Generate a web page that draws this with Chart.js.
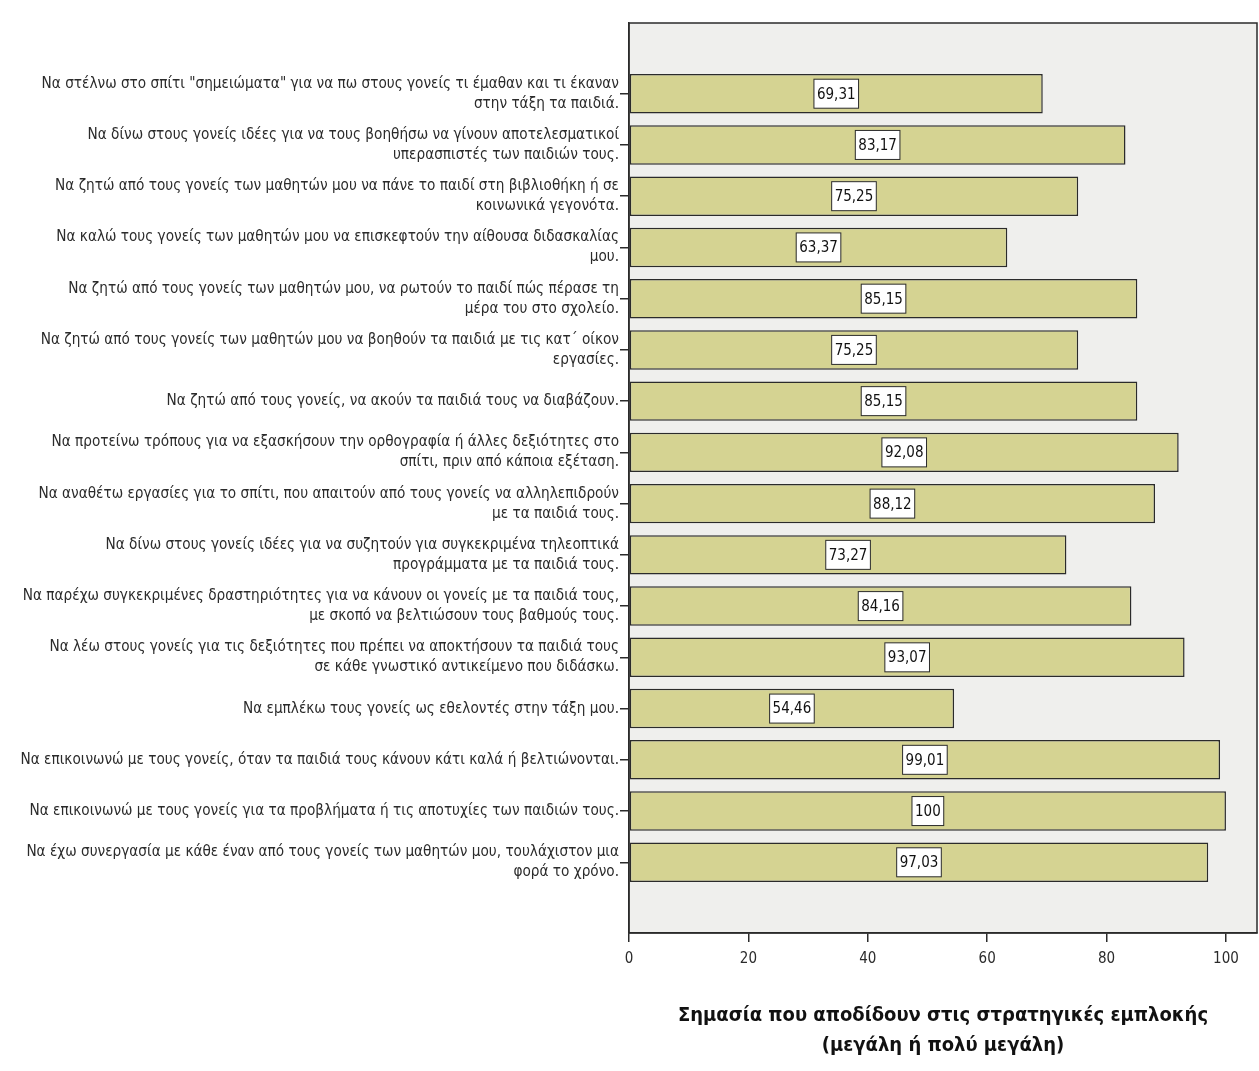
<!DOCTYPE html>
<html>
<head>
<meta charset="utf-8">
<script src="https://cdn.jsdelivr.net/npm/chart.js@4/dist/chart.umd.min.js"></script>
<style>
  html, body { margin: 0; padding: 0; background: #fff; }
  #wrap { width: 1259px; height: 1071px; position: relative; }
</style>
</head>
<body>
<div id="wrap"><canvas id="chartEmplokh"></canvas></div>
<script>
// Στρατηγικές εμπλοκής γονέων (από πάνω προς τα κάτω)
const STRATEGIES = [
    ['Να στέλνω στο σπίτι "σημειώματα" για να πω στους γονείς τι έμαθαν και τι έκαναν', 'στην τάξη τα παιδιά.'],
    ['Να δίνω στους γονείς ιδέες για να τους βοηθήσω να γίνουν αποτελεσματικοί', 'υπερασπιστές των παιδιών τους.'],
    ['Να ζητώ από τους γονείς των μαθητών μου να πάνε το παιδί στη βιβλιοθήκη ή σε', 'κοινωνικά γεγονότα.'],
    ['Να καλώ τους γονείς των μαθητών μου να επισκεφτούν την αίθουσα διδασκαλίας', 'μου.'],
    ['Να ζητώ από τους γονείς των μαθητών μου, να ρωτούν το παιδί πώς πέρασε τη', 'μέρα του στο σχολείο.'],
    ['Να ζητώ από τους γονείς των μαθητών μου να βοηθούν τα παιδιά με τις κατ΄ οίκον', 'εργασίες.'],
    'Να ζητώ από τους γονείς, να ακούν τα παιδιά τους να διαβάζουν.',
    ['Να προτείνω τρόπους για να εξασκήσουν την ορθογραφία ή άλλες δεξιότητες στο', 'σπίτι, πριν από κάποια εξέταση.'],
    ['Να αναθέτω εργασίες για το σπίτι, που απαιτούν από τους γονείς να αλληλεπιδρούν', 'με τα παιδιά τους.'],
    ['Να δίνω στους γονείς ιδέες για να συζητούν για συγκεκριμένα τηλεοπτικά', 'προγράμματα με τα παιδιά τους.'],
    ['Να παρέχω συγκεκριμένες δραστηριότητες για να κάνουν οι γονείς με τα παιδιά τους,', 'με σκοπό να βελτιώσουν τους βαθμούς τους.'],
    ['Να λέω στους γονείς για τις δεξιότητες που πρέπει να αποκτήσουν τα παιδιά τους', 'σε κάθε γνωστικό αντικείμενο που διδάσκω.'],
    'Να εμπλέκω τους γονείς ως εθελοντές στην τάξη μου.',
    'Να επικοινωνώ με τους γονείς, όταν τα παιδιά τους κάνουν κάτι καλά ή βελτιώνονται.',
    'Να επικοινωνώ με τους γονείς για τα προβλήματα ή τις αποτυχίες των παιδιών τους.',
    ['Να έχω συνεργασία με κάθε έναν από τους γονείς των μαθητών μου, τουλάχιστον μια', 'φορά το χρόνο.']
];

// Ποσοστό (%) μεγάλη ή πολύ μεγάλη σημασία
const PERCENTS = [69.31, 83.17, 75.25, 63.37, 85.15, 75.25, 85.15, 92.08, 88.12, 73.27, 84.16, 93.07, 54.46, 99.01, 100, 97.03];

const X_TICKS = [0, 20, 40, 60, 80, 100];
const X_TITLE = ['Σημασία που αποδίδουν στις στρατηγικές εμπλοκής', '(μεγάλη ή πολύ μεγάλη)'];

const NARROW = '"DejaVu Sans Condensed", "Liberation Sans Narrow", sans-serif';
const INK = '#2b2b2b';

const fmt = v => String(v).replace('.', ',');

// γκρι φόντο + πλαίσιο γύρω από την περιοχή του γραφήματος
const frameBg = {
    id: 'frameBg',
    beforeDraw(chart) {
        const { ctx, chartArea: a } = chart;
        ctx.save();
        ctx.fillStyle = '#efefed';
        ctx.fillRect(a.left, a.top, a.right - a.left, a.bottom - a.top);
        ctx.restore();
    },
    afterDraw(chart) {
        const { ctx, chartArea: a } = chart;
        ctx.save();
        ctx.strokeStyle = INK;
        ctx.lineWidth = 1.5;
        ctx.strokeRect(a.left, a.top, a.right - a.left, a.bottom - a.top);
        ctx.restore();
    }
};

// ετικέτα τιμής σε λευκό κουτάκι στη μέση κάθε μπάρας
const valueBoxes = {
    id: 'valueBoxes',
    afterDatasetsDraw(chart) {
        const { ctx } = chart;
        const meta = chart.getDatasetMeta(0);
        ctx.save();
        ctx.font = '15px ' + NARROW;
        ctx.textAlign = 'center';
        ctx.textBaseline = 'middle';
        meta.data.forEach((bar, i) => {
            const txt = fmt(PERCENTS[i]);
            const cx = (bar.x + bar.base) / 2;
            const w = ctx.measureText(txt).width + 6;
            const h = 29;
            ctx.fillStyle = '#fff';
            ctx.fillRect(cx - w / 2, bar.y - h / 2, w, h);
            ctx.strokeStyle = INK;
            ctx.lineWidth = 1;
            ctx.strokeRect(cx - w / 2, bar.y - h / 2, w, h);
            ctx.fillStyle = '#111';
            ctx.fillText(txt, cx, bar.y + 1);
        });
        ctx.restore();
    }
};

new Chart(document.getElementById('chartEmplokh'), {
    type: 'bar',
    data: {
        datasets: [{
            data: PERCENTS.map((v, i) => ({ x: v, y: i })),
            backgroundColor: '#d5d392',
            borderColor: INK,
            borderWidth: 1.5,
            borderSkipped: false,
            categoryPercentage: 1,
            barPercentage: 0.77
        }]
    },
    options: {
        indexAxis: 'y',
        responsive: true,
        maintainAspectRatio: false,
        animation: false,
        layout: { padding: { top: 23, right: 2, left: 0, bottom: 0 } },
        plugins: { legend: { display: false }, tooltip: { enabled: false } },
        scales: {
            x: {
                type: 'linear',
                min: 0,
                max: 105.2,
                afterBuildTicks: s => { s.ticks = X_TICKS.map(v => ({ value: v })); },
                afterFit: s => { s.height = 138; },
                grid: { drawOnChartArea: false, drawTicks: true, tickLength: 9, color: INK, lineWidth: 1.5 },
                border: { color: INK, width: 1.5 },
                ticks: { color: INK, padding: 8, font: { family: NARROW, size: 15 } },
                title: {
                    display: true,
                    text: X_TITLE,
                    color: '#111',
                    padding: { top: 0, bottom: 10 },
                    font: { family: NARROW, size: 20, weight: 'bold', lineHeight: 1.5 }
                }
            },
            y: {
                type: 'linear',
                reverse: true,
                offset: false,
                min: -1.38,
                max: 16.38,
                afterBuildTicks: s => { s.ticks = STRATEGIES.map((_, i) => ({ value: i })); },
                afterFit: s => { s.width = 629; },
                grid: { offset: false, drawOnChartArea: false, drawTicks: true, tickLength: 9, color: INK, lineWidth: 1.5 },
                border: { color: INK, width: 1.5 },
                ticks: {
                    autoSkip: false,
                    padding: 1,
                    color: INK,
                    font: { family: NARROW, size: 15.2, lineHeight: 1.32 },
                    callback: v => STRATEGIES[v]
                }
            }
        }
    },
    plugins: [frameBg, valueBoxes]
});
</script>
</body>
</html>
